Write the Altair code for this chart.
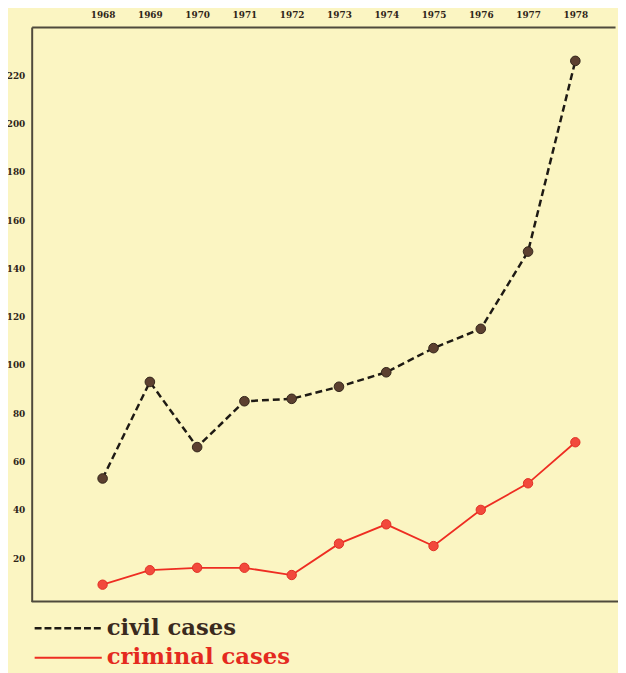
import altair as alt
import pandas as pd

years = [1968, 1969, 1970, 1971, 1972, 1973, 1974, 1975, 1976, 1977, 1978]
civil = [53, 93, 66, 85, 86, 91, 97, 107, 115, 147, 226]
criminal = [9, 15, 16, 16, 13, 26, 34, 25, 40, 51, 68]
y_ticks = [20, 40, 60, 80, 100, 120, 140, 160, 180, 200, 220]
legend_labels = ["civil cases", "criminal cases"]

W, H = 591, 582
BG = "#fbf5c2"
FRAME = "#4f4a3c"
INK = "#2e2418"

df = pd.DataFrame({
    "year": years * 2,
    "value": civil + criminal,
    "series": ["civil"] * len(years) + ["criminal"] * len(years),
})
civ = df[df.series == "civil"]
cri = df[df.series == "criminal"]

xs = alt.Scale(domain=[1966.5, 1978.84], nice=False, zero=False)
ys = alt.Scale(domain=[2, 240], nice=False, zero=False)

X = alt.X("year:Q", scale=xs, title=None,
          axis=alt.Axis(orient="top", values=years, format="d", ticks=False,
                        grid=False, labelPadding=8, domainColor=FRAME,
                        domainWidth=2, labelFont="DejaVu Serif", labelFontSize=9,
                        labelFontWeight="bold", labelColor=INK))
Y = alt.Y("value:Q", scale=ys, title=None,
          axis=alt.Axis(values=y_ticks, ticks=False, grid=False, labelPadding=7,
                        domainColor=FRAME, domainWidth=2, labelFont="DejaVu Serif",
                        labelFontSize=9, labelFontWeight="bold", labelColor=INK))

civil_line = alt.Chart(civ).mark_line(color="#1e1a14", strokeWidth=2.5,
                                      strokeDash=[7, 4]).encode(x=X, y=Y)
civil_pts = alt.Chart(civ).mark_circle(size=95, opacity=1, color="#5c4030",
                                       stroke="#33261a", strokeWidth=1).encode(x=X, y=Y)
crim_line = alt.Chart(cri).mark_line(color="#ee2d22", strokeWidth=1.8).encode(x=X, y=Y)
crim_pts = alt.Chart(cri).mark_circle(size=90, opacity=1, color="#f2493c",
                                      stroke="#e03025", strokeWidth=1).encode(x=X, y=Y)

one = pd.DataFrame({"k": [0]})
bottom = alt.Chart(one).mark_rule(color=FRAME, strokeWidth=2).encode(
    x=alt.value(0), x2=alt.value(W + 3), y=alt.value(H))

leg_civ = pd.DataFrame({"label": [legend_labels[0]]})
leg_cri = pd.DataFrame({"label": [legend_labels[1]]})
leg_line1 = alt.Chart(leg_civ).mark_rule(color="#1e1a14", strokeWidth=2.5,
                                         strokeDash=[7, 3]).encode(
    x=alt.value(3), x2=alt.value(73), y=alt.value(609))
leg_text1 = alt.Chart(leg_civ).mark_text(align="left", baseline="alphabetic",
                                         font="DejaVu Serif", fontWeight="bold",
                                         fontSize=23, color="#3a2a1e").encode(
    x=alt.value(76), y=alt.value(616), text="label:N")
leg_line2 = alt.Chart(leg_cri).mark_rule(color="#ee2d22", strokeWidth=2).encode(
    x=alt.value(3), x2=alt.value(71), y=alt.value(639))
leg_text2 = alt.Chart(leg_cri).mark_text(align="left", baseline="alphabetic",
                                         font="DejaVu Serif", fontWeight="bold",
                                         fontSize=23, color="#e42a1e").encode(
    x=alt.value(76), y=alt.value(645), text="label:N")

chart = alt.layer(
    bottom, civil_line, crim_line, civil_pts, crim_pts,
    leg_line1, leg_text1, leg_line2, leg_text2,
).properties(
    width=W, height=H,
    autosize=alt.AutoSizeParams(type="none"),
    padding={"left": 24, "top": 15, "right": 3, "bottom": 68},
).configure(background=BG).configure_view(stroke=None)

chart.save("out.html", embed_options={"renderer": "svg", "actions": False})
